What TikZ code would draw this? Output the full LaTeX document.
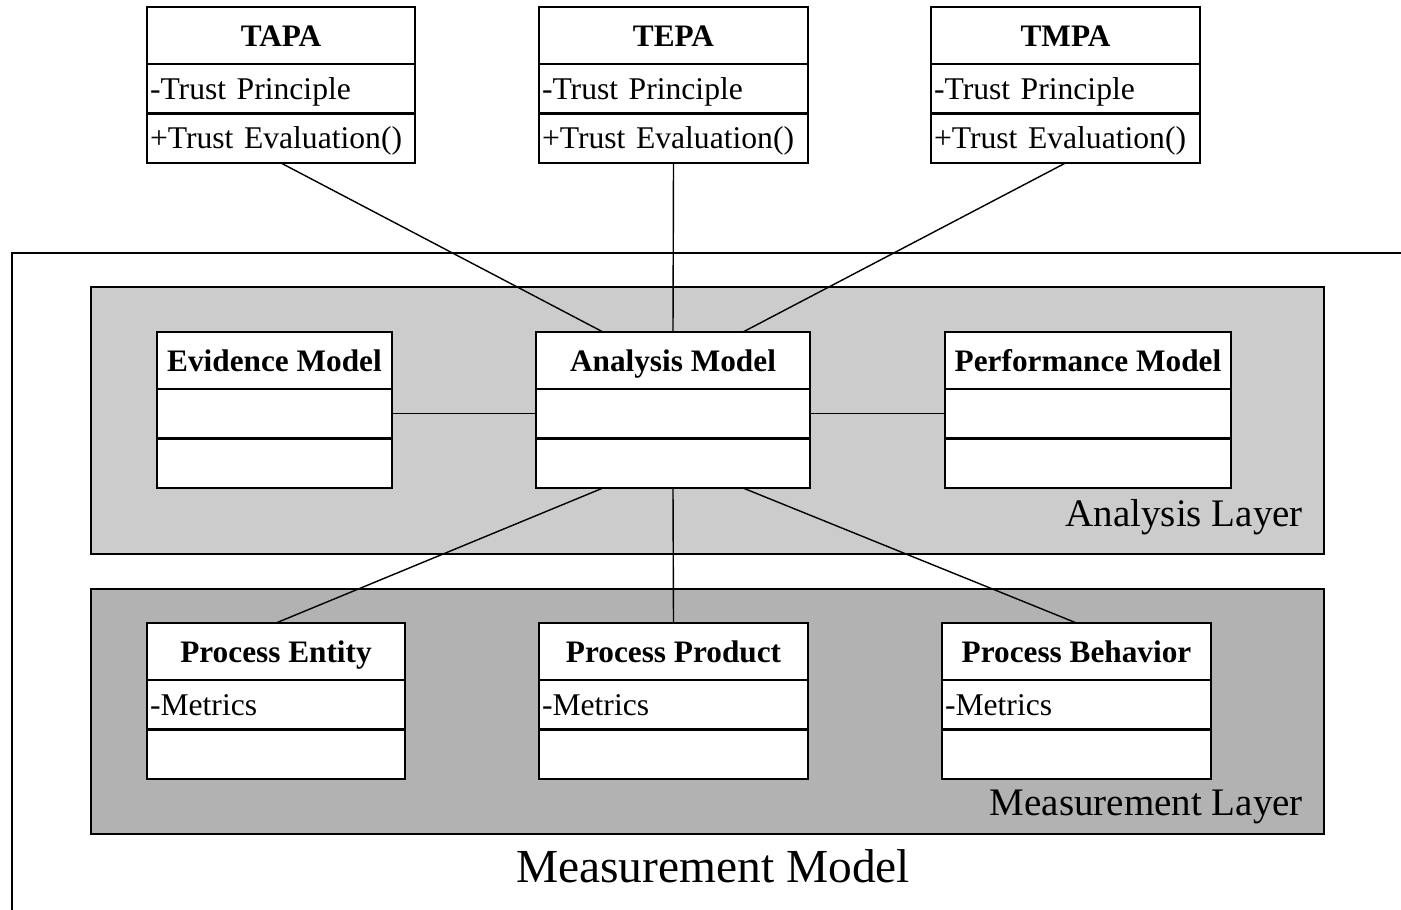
\documentclass[tikz,border=0pt]{standalone}
\usepackage{fontspec}
\setmainfont{Liberation Serif}
\usetikzlibrary{calc,positioning}

% UML class box: name, x, y, width, title, attribute row, operation row
\newcommand{\umlbox}[7]{%
    \node[cls head, minimum width={#4*0.02cm}] (#1) at (#2, #3) {#5};
    \node[cls row, text width={#4*0.02cm-0.12cm}] (#1-attr) at (#1.south west) {#6};
    \node[cls row, text width={#4*0.02cm-0.12cm}] (#1-op) at (#1-attr.south west) {#7};
}

\begin{document}
\begin{tikzpicture}[x=0.02cm, y=-0.02cm]
        \tikzset{
            cls head/.style={draw, fill=white, line width=1.4pt, anchor=north west,
                inner sep=0pt, outer sep=0pt, minimum height={57*0.02cm},
                text height=12pt, text depth=0pt,
                font=\bfseries\fontsize{17.8}{20}\selectfont},
            cls row/.style={draw, fill=white, line width=1.4pt, anchor=north west,
                inner xsep=0.06cm, inner ysep=0pt, outer sep=0pt,
                minimum height={49.5*0.02cm}, align=left,
                text height=12pt, text depth=0pt,
                font=\fontsize{18}{21}\selectfont},
            layer/.style={draw, line width=1.3pt},
            link/.style={line width=0.8pt},
        }

        \useasboundingbox (0, 0) rectangle (1401, 910);

        % Outer frame of the measurement model, cut by the page edge
        \draw[line width=1.4pt] (12, 915) -- (12, 253) -- (1410, 253);
        \node (mmodel) at (713, 866) {\fontsize{27}{30}\selectfont Measurement Model};

        % Layers
        \draw[layer, fill=black!20] (91, 287) rectangle (1324, 554);
        \node[anchor=east] (alayer) at (1309, 517)
            {\fontsize{22.2}{25}\selectfont Analysis Layer};

        \draw[layer, fill=black!30] (91, 589) rectangle (1324, 834);
        \node[anchor=east] (mlayer) at (1309, 807)
            {\fontsize{22.2}{25}\selectfont Measurement Layer};

        % Principle classes on top
        \umlbox{tapa}{147}{7}{268}{TAPA}{-Trust Principle}{+Trust Evaluation()}
        \umlbox{tepa}{539}{7}{269}{TEPA}{-Trust Principle}{+Trust Evaluation()}
        \umlbox{tmpa}{931}{7}{269}{TMPA}{-Trust Principle}{+Trust Evaluation()}

        % Analysis layer classes
        \umlbox{evid}{157}{332}{235}{Evidence Model}{}{}
        \umlbox{anmod}{536}{332}{274}{Analysis Model}{}{}
        \umlbox{perf}{945}{332}{286}{Performance Model}{}{}

        % Measurement layer classes
        \umlbox{pent}{147}{623}{258}{Process Entity}{-Metrics}{}
        \umlbox{pprod}{539}{623}{269}{Process Product}{-Metrics}{}
        \umlbox{pbeh}{942}{623}{269}{Process Behavior}{-Metrics}{}

        \begin{scope}[link]
            \draw (tapa-op.south) -- ($(anmod.north) + (-70, 0)$);
            \draw (tepa-op.south) -- (anmod.north);
            \draw (tmpa-op.south) -- ($(anmod.north) + (70, 0)$);

            \draw (evid-attr.east) -- (anmod-attr.west);
            \draw (anmod-attr.east) -- (perf-attr.west);

            \draw ($(anmod-op.south) + (-70, 0)$) -- (pent.north);
            \draw (anmod-op.south) -- (pprod.north);
            \draw ($(anmod-op.south) + (70, 0)$) -- (pbeh.north);
        \end{scope}

\end{tikzpicture}
\end{document}
